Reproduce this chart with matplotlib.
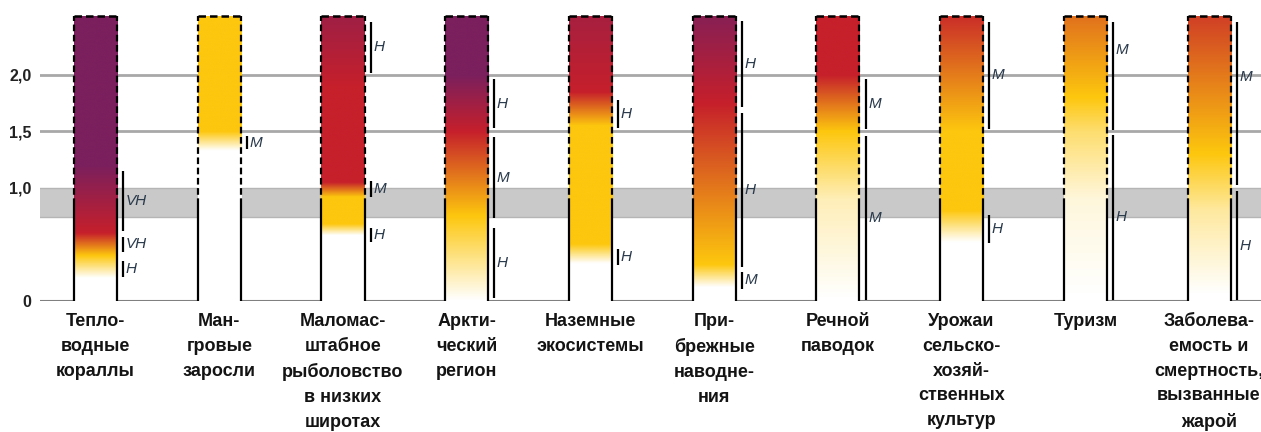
import numpy as np
import matplotlib
matplotlib.use("Agg")
import matplotlib.pyplot as plt
from matplotlib.colors import LinearSegmentedColormap
from matplotlib.transforms import blended_transform_factory

plt.rcParams["font.family"] = ["Liberation Sans", "DejaVu Sans"]

# categories (bottom labels)
categories = [
    "Тепло-\nводные\nкораллы",
    "Ман-\nгровые\nзаросли",
    "Маломас-\nштабное\nрыболовство\nв низких\nширотах",
    "Аркти-\nческий\nрегион",
    "Наземные\nэкосистемы",
    "При-\nбрежные\nнаводне-\nния",
    "Речной\nпаводок",
    "Урожаи\nсельско-\nхозяй-\nственных\nкультур",
    "Туризм",
    "Заболева-\nемость и\nсмертность,\nвызванные\nжарой",
]

# risk transitions: temperature (°C) -> risk level (0 white, 1 yellow, 2 red, 3 purple)
ember_temps = [
    [0.2, 0.4, 0.6, 1.2, 2.5],
    [1.33, 1.5, 2.5],
    [0.58, 0.68, 0.92, 1.05, 1.9, 2.5],
    [0.0, 0.75, 1.5, 2.0, 2.5],
    [0.33, 0.5, 1.55, 1.85, 2.5],
    [0.12, 0.32, 1.75, 2.5],
    [0.0, 0.9, 1.5, 2.0, 2.5],
    [0.52, 0.8, 1.5, 2.5],
    [0.0, 0.9, 1.5, 1.8, 2.5],
    [0.05, 0.8, 1.3, 2.5],
]
ember_levels = [
    [0, 1, 2, 3, 3],
    [0, 1, 1],
    [0, 1, 1, 2, 2, 2.5],
    [0, 1, 2, 3, 3],
    [0, 1, 1, 2, 2.4],
    [0, 1, 2, 2.8],
    [0, 0.3, 1, 2, 2],
    [0, 1, 1, 1.9],
    [0, 0.15, 0.6, 1, 1.5],
    [0, 0.4, 1, 1.8],
]

# confidence segments: (low, high, label)
confidence = [
    [(0.62, 1.15, "VH"), (0.43, 0.57, "VH"), (0.21, 0.35, "H")],
    [(1.34, 1.46, "M")],
    [(2.02, 2.47, "H"), (0.92, 1.06, "M"), (0.52, 0.65, "H")],
    [(1.53, 1.96, "H"), (0.73, 1.45, "M"), (0.03, 0.65, "H")],
    [(1.53, 1.78, "H"), (0.32, 0.46, "H")],
    [(1.72, 2.48, "H"), (0.30, 1.66, "H"), (0.11, 0.26, "M")],
    [(1.52, 1.96, "M"), (0.01, 1.46, "M")],
    [(1.52, 2.47, "M"), (0.51, 0.76, "H")],
    [(1.51, 2.47, "M"), (0.01, 1.47, "H")],
    [(1.03, 2.47, "M"), (0.01, 0.97, "H")],
]
label_override = {(8, 0): 2.22, (9, 0): 1.98}

yticks = [0, 1.0, 1.5, 2.0]
ytick_labels = ["0", "1,0", "1,5", "2,0"]
band = (0.74, 1.0)
bar_top = 2.52
solid_top = 0.85

ember = LinearSegmentedColormap.from_list(
    "ember", [(0, "#ffffff"), (1 / 3, "#fdc70e"), (2 / 3, "#c6202b"), (1, "#7b1f5d")])

W, H = 1261, 432
fig = plt.figure(figsize=(W / 100, H / 100), dpi=100)
ax = fig.add_axes([40 / W, 131 / H, 1 - 40 / W, 294 / H])
ax.set_xlim(-0.449, 9.42)
ax.set_ylim(0, 2.6)
for s in ax.spines.values():
    s.set_visible(False)
ax.set_xticks([])
ax.set_yticks(yticks)
ax.set_yticklabels(ytick_labels, fontsize=11.5, fontweight="bold", color="#222222")
ax.tick_params(axis="y", length=0, pad=6)

# background: band and gridlines
ax.axhspan(band[0], band[1], color="#c9c9c9", zorder=0, lw=0)
ax.axhline(band[0], color="#b5b5b5", lw=1, zorder=0.5)
ax.axhline(band[1], color="#b5b5b5", lw=1, zorder=0.5)
for g in [1.5, 2.0]:
    ax.axhline(g, color="#a8a8a8", lw=2, zorder=0.5)
ax.axhline(0, color="#808080", lw=1.5, zorder=0.5)

hw = 0.174
yy = np.linspace(0, bar_top, 400)
dash = (0, (3, 1.6))
for i in range(len(categories)):
    lev = np.interp(yy, ember_temps[i], ember_levels[i])
    ax.imshow(lev[:, None], extent=[i - hw, i + hw, 0, bar_top], origin="lower",
              cmap=ember, vmin=0, vmax=3, aspect="auto", interpolation="bilinear", zorder=2)
    for xe in (i - hw, i + hw):
        ax.plot([xe, xe], [0, solid_top], color="black", lw=1.6, zorder=3, solid_capstyle="butt")
        ax.plot([xe, xe], [solid_top, bar_top], color="black", lw=1.6, ls=dash, zorder=3)
    ax.plot([i - hw, i + hw], [bar_top, bar_top], color="black", lw=1.8, ls=dash, zorder=3)

    xc = i + hw + 0.05
    for k, (lo, hi, lab) in enumerate(confidence[i]):
        ax.plot([xc, xc], [lo, hi], color="black", lw=1.6, zorder=3, solid_capstyle="butt")
        ym = label_override.get((i, k), (lo + hi) / 2)
        ax.text(xc + 0.02, ym, lab, fontsize=11, style="italic", color="#2a3a4c",
                va="center", ha="left", zorder=4)

trans = blended_transform_factory(ax.transData, ax.transAxes)
for i, c in enumerate(categories):
    ax.text(i, -12 / 294, c, transform=trans, ha="center", va="top", fontsize=13,
            fontweight="bold", color="#141414", linespacing=1.6)

fig.savefig("out.png", dpi=100)
